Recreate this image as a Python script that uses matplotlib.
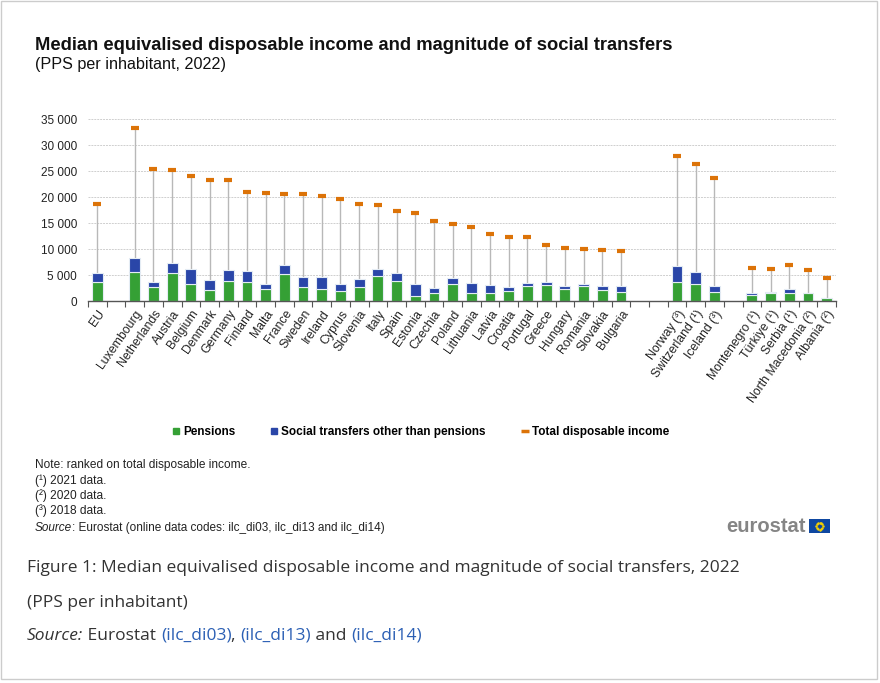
import numpy as np
import matplotlib
matplotlib.use('Agg')
import matplotlib.pyplot as plt
from matplotlib.patches import Rectangle
from matplotlib.lines import Line2D
from matplotlib.ticker import FuncFormatter, MultipleLocator

plt.rcParams['font.family'] = ['Liberation Sans', 'DejaVu Sans']

# data (PPS per inhabitant)
groups = [
    ['EU'],
    ['Luxembourg', 'Netherlands', 'Austria', 'Belgium', 'Denmark', 'Germany', 'Finland',
     'Malta', 'France', 'Sweden', 'Ireland', 'Cyprus', 'Slovenia', 'Italy', 'Spain',
     'Estonia', 'Czechia', 'Poland', 'Lithuania', 'Latvia', 'Croatia', 'Portugal',
     'Greece', 'Hungary', 'Romania', 'Slovakia', 'Bulgaria'],
    ['Norway (³)', 'Switzerland (¹)', 'Iceland (³)'],
    ['Montenegro (¹)', 'Türkiye (¹)', 'Serbia (¹)', 'North Macedonia (²)', 'Albania (²)'],
]
gaps = [1, 2, 1]  # empty slots between groups

pensions = [3700,
            5640, 2690, 5320, 3200, 2050, 3850, 3700, 2370, 5260, 2630, 2240, 1990, 2630, 4740,
            3850, 1030, 1600, 3330, 1470, 1470, 1990, 2820, 3010, 2240, 2820, 2120, 1800,
            3590, 3330, 1800,
            1220, 1470, 1540, 1540, 640]
other_transfers = [1600,
                   2630, 960, 2050, 2890, 1920, 2050, 2000, 900, 1730, 1970, 2360, 1280, 1540, 1460,
                   1470, 2240, 900, 1090, 1930, 1610, 640, 640, 580, 710, 450, 700, 1020,
                   3080, 2250, 1020,
                   380, 260, 700, 0, 0]
total_income = [18600,
                33200, 25400, 25100, 24100, 23200, 23200, 21000, 20700, 20500, 20500, 20260, 19600, 18700, 18460,
                17300, 17000, 15300, 14900, 14200, 12800, 12250, 12250, 10770, 10200, 10060, 9740, 9600,
                27900, 26300, 23650,
                6400, 6200, 6990, 5900, 4420]
series_names = ['Pensions', 'Social transfers other than pensions', 'Total disposable income']

GREEN = '#35a035'
BLUE = '#2a46a8'
ORANGE = '#dc7308'

# slot positions
labels = []
pos = []
slot = 0
for i, g in enumerate(groups):
    for name in g:
        labels.append(name)
        pos.append(slot)
        slot += 1
    if i < len(gaps):
        slot += gaps[i]
n_slots = slot
pos = np.array(pos)
pensions = np.array(pensions)
other_transfers = np.array(other_transfers)
total_income = np.array(total_income)

fig = plt.figure(figsize=(8.8, 6.83), dpi=100)
ax = fig.add_axes([88 / 880, 1 - 301 / 683, 748 / 880, 182 / 683])

ax.vlines(pos, 0, total_income, color='#b8b8b8', lw=1.0, zorder=1)
ax.bar(pos, pensions, width=0.58, color=GREEN, edgecolor='#e4ecf4', lw=0.8, zorder=2)
ax.bar(pos, other_transfers, width=0.58, bottom=pensions, color=BLUE, edgecolor='#e4ecf4', lw=0.8,
       zorder=2)
ax.plot(pos, total_income, ls='none', marker='_', ms=5.5, mew=3, color=ORANGE, zorder=3)

ax.set_xlim(-0.5, n_slots - 0.5)
ax.set_ylim(0, 35000)
ax.yaxis.set_major_locator(MultipleLocator(5000))
ax.yaxis.set_major_formatter(FuncFormatter(lambda v, p: f'{int(v):,}'.replace(',', ' ')))
ax.grid(axis='y', color='#cfcfcf', ls=(0, (2, 1)), lw=0.7, zorder=0)
ax.set_axisbelow(True)
for s in ['top', 'right', 'left']:
    ax.spines[s].set_visible(False)
ax.spines['bottom'].set_color('#555555')
ax.spines['bottom'].set_linewidth(1.0)
ax.tick_params(axis='y', length=0, labelsize=8.5, pad=8, labelcolor='#222222')

ax.set_xticks(pos)
ax.set_xticklabels(labels, rotation=55, ha='right', va='top', rotation_mode='anchor', fontsize=8.8,
                   color='#222222')
ax.tick_params(axis='x', which='major', length=0, pad=5)
ax.set_xticks(np.arange(-0.5, n_slots, 1.0), minor=True)
ax.tick_params(axis='x', which='minor', length=4, color='#555555', width=0.8)

# titles
fig.text(35 / 880, 1 - 45 / 683, 'Median equivalised disposable income and magnitude of social transfers',
         fontsize=13.2, fontweight='bold', va='center', color='#111111')
fig.text(35 / 880, 1 - 65 / 683, '(PPS per inhabitant, 2022)', fontsize=11.6, va='center', color='#111111')

# legend
leg_handles = [
    Line2D([], [], ls='none', marker='s', ms=4, color=GREEN),
    Line2D([], [], ls='none', marker='s', ms=4, color=BLUE),
    Line2D([], [], ls='none', marker='_', ms=6, mew=2.5, color=ORANGE),
]
fig.legend(leg_handles, series_names, loc='center', bbox_to_anchor=(0.478, 1 - 432 / 683), ncol=3,
           frameon=False, prop={'weight': 'bold', 'size': 8.5}, handlelength=0.6, handletextpad=0.3,
           columnspacing=3.0)

# notes
note_lines = ['Note: ranked on total disposable income.', '(¹) 2021 data.', '(²) 2020 data.', '(³) 2018 data.']
note_y = [465, 481, 496, 511]
for t, y in zip(note_lines, note_y):
    fig.text(35 / 880, 1 - y / 683, t, fontsize=8.6, va='center', color='#222222')

renderer = fig.canvas.get_renderer()


def put_runs(x, y, runs, **kw):
    for text, style in runs:
        t = fig.text(x, y, text, va='center', **kw, **style)
        bb = t.get_window_extent(renderer)
        x += bb.width / fig.bbox.width


put_runs(35 / 880, 1 - 528 / 683,
         [('Source', {'style': 'italic'}),
          (': Eurostat (online data codes: ilc_di03, ilc_di13 and ilc_di14)', {})],
         fontsize=8.5, color='#222222')

# eurostat logo
fig.text(806 / 880, 1 - 526 / 683, 'eurostat', fontsize=14.5, fontweight='bold', color='#858585',
         ha='right', va='center')
flag = fig.add_axes([809 / 880, 1 - 533 / 683, 21 / 880, 14 / 683])
flag.set_facecolor('#0e47a1')
ang = np.linspace(0, 2 * np.pi, 13)[:-1]
flag.plot(np.cos(ang) * 0.32, np.sin(ang) * 0.5, ls='none', marker='o', ms=0.8, color='#f5d000')
flag.set_xlim(-1, 1)
flag.set_ylim(-1, 1)
flag.set_xticks([])
flag.set_yticks([])
for s in flag.spines.values():
    s.set_visible(False)

# caption below the chart
cap_kw = dict(family=['Open Sans', 'DejaVu Sans'], fontsize=12.5)
fig.text(27 / 880, 1 - 568 / 683,
         'Figure 1: Median equivalised disposable income and magnitude of social transfers, 2022',
         va='center', color='#333333', **cap_kw)
fig.text(27 / 880, 1 - 603 / 683, '(PPS per inhabitant)', va='center', color='#333333', **cap_kw)
LINK = '#2b5fb4'
put_runs(27 / 880, 1 - 636 / 683,
         [('Source:', {'style': 'italic', 'color': '#333333'}), (' Eurostat ', {'color': '#333333'}),
          ('(ilc_di03)', {'color': LINK}), (', ', {'color': '#333333'}), ('(ilc_di13)', {'color': LINK}),
          (' and ', {'color': '#333333'}), ('(ilc_di14)', {'color': LINK})],
         **cap_kw)

fig.add_artist(Rectangle((1 / 880, 4 / 683), 876 / 880, 678 / 683, transform=fig.transFigure,
                         fill=False, edgecolor='#cccccc', lw=1))

fig.savefig('out.png', dpi=100)
